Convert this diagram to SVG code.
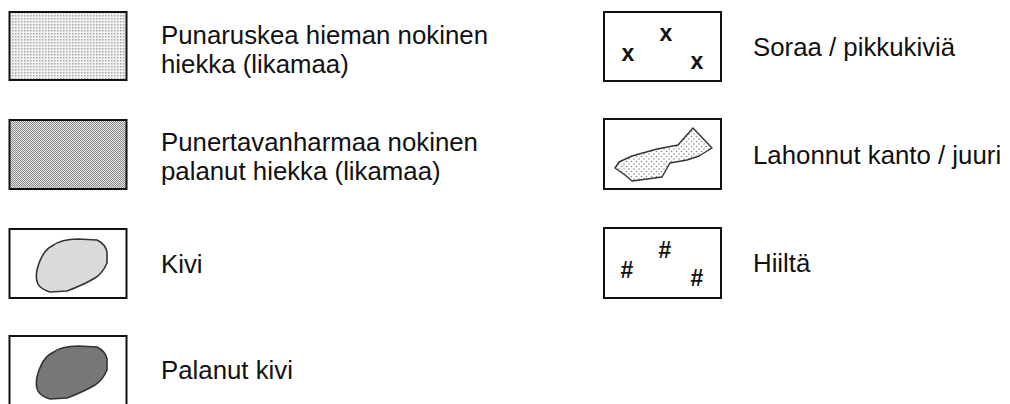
<svg xmlns="http://www.w3.org/2000/svg" width="1010" height="404" viewBox="0 0 1010 404">
<style>
.box{fill:#fff;stroke:#111;stroke-width:2}
.lbl{font-family:"Liberation Sans",Arial,sans-serif;font-size:25.8px;fill:#111}
.sym{font-family:"Liberation Sans",Arial,sans-serif;font-size:23px;font-weight:bold;fill:#111;text-anchor:middle}
.stone{stroke:#333;stroke-width:1.6}
</style>
<defs>
<pattern id="dots" width="3" height="3" patternUnits="userSpaceOnUse">
<rect width="3" height="3" fill="#f2f2f2"/>
<rect x="0" y="0" width="1.5" height="1.5" fill="#a8a8a8"/>
</pattern>
<pattern id="checker" width="2" height="2" patternUnits="userSpaceOnUse">
<rect width="2" height="2" fill="#e6e6e6"/>
<rect x="0" y="0" width="1" height="1" fill="#8a8a8a"/>
<rect x="1" y="1" width="1" height="1" fill="#8a8a8a"/>
</pattern>
<pattern id="sparse" width="5" height="5" patternUnits="userSpaceOnUse">
<rect width="5" height="5" fill="#fff"/>
<circle cx="1.5" cy="1.5" r="0.8" fill="#888"/>
<circle cx="4" cy="4" r="0.8" fill="#888"/>
</pattern>
<path id="stoneShape" d="M37,270 C40,258 44,250 52,246 C60,240 70,239 78,239 L97,240 C103,243 106,247 107,252 L107,263 C104,270 100,275 95,278 C85,284 75,288 67,291 L50,292 C44,290 40,288 38,284 C36,280 36,275 37,270 Z"/>
</defs>

<g id="node-punaruskea">
<rect class="box" x="9.5" y="12" width="117" height="68" style="fill:url(#dots)"/>
<text class="lbl" x="161" y="44">Punaruskea hieman nokinen</text>
<text class="lbl" x="161" y="73">hiekka (likamaa)</text>
</g>

<g id="node-punertavanharmaa">
<rect class="box" x="9.5" y="120" width="117" height="69" style="fill:url(#checker)"/>
<text class="lbl" x="161" y="151">Punertavanharmaa nokinen</text>
<text class="lbl" x="161" y="180">palanut hiekka (likamaa)</text>
</g>

<g id="node-kivi">
<rect class="box" x="9.5" y="229" width="117" height="69"/>
<use href="#stoneShape" class="stone" fill="#dadada"/>
<text class="lbl" x="161" y="273">Kivi</text>
</g>

<g id="node-palanut-kivi">
<rect class="box" x="9.5" y="336" width="117" height="69"/>
<use href="#stoneShape" class="stone" fill="#777" transform="translate(0,107)"/>
<text class="lbl" x="161" y="379">Palanut kivi</text>
</g>

<g id="node-soraa">
<rect class="box" x="604" y="12" width="117" height="69"/>
<text class="sym" x="666" y="41">x</text>
<text class="sym" x="628" y="61">x</text>
<text class="sym" x="697" y="69">x</text>
<text class="lbl" x="753" y="56">Soraa / pikkukiviä</text>
</g>

<g id="node-lahonnut">
<rect class="box" x="604" y="119" width="117" height="70"/>
<path d="M615,168 L619,162 L632,156 L657,149 L678,145 L693,128 L712,148 L699,156 L687,160 L670,163 L662,177 L632,181 L625,175 Z" fill="url(#sparse)" stroke="#333" stroke-width="1.4" stroke-linejoin="round"/>
<text class="lbl" x="753" y="164">Lahonnut kanto / juuri</text>
</g>

<g id="node-hiilta">
<rect class="box" x="604" y="228" width="117" height="70"/>
<text class="sym" x="665" y="258">#</text>
<text class="sym" x="627" y="278">#</text>
<text class="sym" x="697" y="286">#</text>
<text class="lbl" x="753" y="272">Hiiltä</text>
</g>

<g id="connectors"></g>
</svg>
